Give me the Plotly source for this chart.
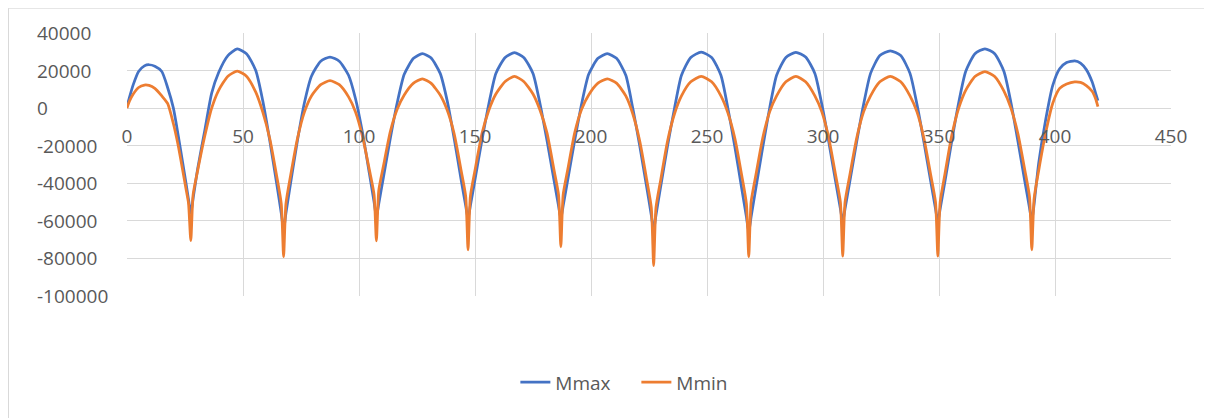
import plotly.graph_objects as go

# ---- data (position along beam, bending moments) ----
x_pos = [
    0, 1, 2.7, 5, 7.5, 9.5, 12, 15, 17.5, 20, 22, 24, 25.5, 26.5,
    27.5, 28.5, 30.5, 33.5, 36.5, 39.5, 43.5, 47.5, 51.5, 55.5, 58.5, 61.5, 64.5, 66.5,
    67.5, 68.5, 70.5, 73.5, 76.5, 79.5, 83.5, 87.5, 91.5, 95.5, 98.5, 101.5, 104.5, 106.5,
    107.5, 108.5, 110.5, 113.5, 116.5, 119.5, 123.5, 127.3, 131, 135, 138, 141, 144, 146,
    147, 148, 150, 153, 156, 159, 163, 167, 171, 175, 178, 181, 184, 186,
    187, 188, 190, 193, 196, 199, 203, 207, 211, 215, 218, 221, 224, 226,
    227, 228, 230, 233, 236, 239, 243, 247.5, 252, 256, 259, 262, 265, 267,
    268, 269, 271, 274, 277, 280, 284, 288.3, 292.5, 296.5, 299.5, 302.5, 305.5, 307.5,
    308.5, 309.5, 311.5, 314.5, 317.5, 320.5, 324.5, 329, 333.5, 337.5, 340.5, 343.5, 346.5, 348.5,
    349.5, 350.5, 352.5, 355.5, 358.5, 361.5, 365.5, 369.8, 374, 378, 381, 384, 387, 389,
    390, 391, 393, 396, 399, 402, 405, 408.5, 411, 413.5, 416, 417.5, 418.5,
]

m_max = [
    1000, 5500, 12500, 19500, 22500, 23100, 22300, 19500, 11000, 0, -14000, -29000, -40500, -48500,
    -56000, -48000, -32000, -12000, 8000, 19000, 28000, 31500, 29000, 20000, 4000, -17000, -40000, -56000,
    -65000, -56000, -40000, -17000, 3000, 17000, 25000, 27200, 25000, 17500, 5000, -13000, -35000, -50000,
    -58000, -51000, -37000, -16000, 3000, 18000, 26500, 29000, 26800, 18500, 4000, -16000, -38000, -52000,
    -59000, -52000, -38000, -17000, 2500, 18500, 27000, 29500, 27000, 18500, 2500, -17000, -38000, -52000,
    -59000, -52000, -38000, -17000, 2500, 18000, 26500, 29000, 26500, 17500, 0, -20000, -42000, -57000,
    -65000, -57000, -42000, -20000, 0, 17500, 27000, 29800, 27000, 17500, 0, -20500, -43000, -58000,
    -66000, -58000, -43000, -21000, 0, 17500, 27000, 29700, 27200, 18500, 2000, -18000, -39500, -53500,
    -60500, -53500, -39500, -18000, 2000, 18500, 28000, 30500, 28000, 18500, 2000, -18000, -39500, -53500,
    -60500, -53500, -39500, -17500, 3000, 19500, 29000, 31600, 29000, 19500, 3000, -17500, -39000, -53000,
    -60000, -51000, -29000, -6000, 12000, 21000, 24300, 25200, 24000, 20500, 14000, 8000, 4000,
]

m_min = [
    0, 3500, 7500, 11000, 12300, 12100, 10500, 6500, 2500, -8300, -19500, -33000, -43500, -50500,
    -70500, -46000, -33000, -15000, 0, 9500, 17000, 19700, 17000, 8500, -2000, -16000, -36000, -51000,
    -79100, -51000, -36000, -16000, -2000, 6500, 12500, 14600, 12500, 6000, -2000, -15000, -33000, -46000,
    -70600, -44000, -31000, -12500, -500, 7000, 13300, 15600, 13300, 7000, -1000, -13500, -33000, -47000,
    -75400, -47000, -33000, -13500, -1000, 7500, 14200, 16900, 14200, 7500, -1000, -13000, -32500, -46000,
    -73800, -46000, -32500, -13000, -500, 7000, 13300, 15600, 13300, 6500, -3000, -17500, -38000, -53000,
    -83800, -53000, -38500, -17500, -3000, 6500, 14000, 16900, 14000, 6500, -2500, -16000, -36000, -51000,
    -79100, -50000, -36000, -16000, -2000, 6500, 14000, 16900, 14000, 6500, -2000, -16000, -36000, -50000,
    -78800, -50000, -36000, -16000, -2000, 6500, 14000, 16900, 14000, 6500, -2000, -16000, -36000, -50000,
    -78800, -50000, -35500, -14500, 0, 9500, 16800, 19500, 16800, 9000, 0, -13500, -33000, -47000,
    -75400, -48000, -33000, -13000, 2500, 10500, 12800, 14000, 13700, 12000, 9000, 5000, 800,
]

x_ticks = [0, 50, 100, 150, 200, 250, 300, 350, 400, 450]
y_ticks = [40000, 20000, 0, -20000, -40000, -60000, -80000, -100000]
y_labels = ["40000", "20000", "0", "-20000", "-40000", "-60000", "-80000", "-100000"]
series_names = ["Mmax", "Mmin"]

# ---- styling ----
BLUE = "#4472C4"
ORANGE = "#ED7D31"
GRID = "#D9D9D9"
TXT = "#595959"
FONT = "Open Sans"
FS = 19

fig = go.Figure()
fig.add_trace(go.Scatter(x=x_pos, y=m_max, mode="lines", name=series_names[0],
                         line=dict(color=BLUE, width=2.75, shape="spline", smoothing=0.6)))
fig.add_trace(go.Scatter(x=x_pos, y=m_min, mode="lines", name=series_names[1],
                         line=dict(color=ORANGE, width=2.75, shape="spline", smoothing=0.6)))

y_min, y_max = -100000, 40000
zero_frac = (0 - y_min) / (y_max - y_min)

# the page body has an 8px margin, so the figure is 8px smaller than the window
fig.update_layout(
    width=1204, height=410,
    margin=dict(l=119, r=41, t=25, b=122),
    paper_bgcolor="white", plot_bgcolor="white",
    font=dict(family=FONT, size=FS, color=TXT),
    showlegend=True,
    legend=dict(orientation="h", x=0.372, xanchor="left", y=-0.328, yanchor="middle",
                font=dict(family=FONT, size=FS, color=TXT), itemwidth=30,
                entrywidth=76, entrywidthmode="pixels", tracegroupgap=0),
    xaxis=dict(range=[0, 450], tickvals=x_ticks, showgrid=True, gridcolor=GRID, gridwidth=1,
               zeroline=False, showline=False, ticks="", anchor="free", position=zero_frac,
               automargin=False,
               ticklabelstandoff=15, tickfont=dict(family=FONT, size=FS, color=TXT)),
    yaxis=dict(range=[y_min, y_max], tickvals=y_ticks, showgrid=True, gridcolor=GRID, gridwidth=1,
               zeroline=False, showline=False, showticklabels=False, ticks="", automargin=False),
)

for v, lbl in zip(y_ticks, y_labels):
    fig.add_annotation(x=-0.088, xref="paper", y=v, yref="y", text=lbl, showarrow=False,
                       xanchor="left", yanchor="middle",
                       font=dict(family=FONT, size=FS, color=TXT))

# chart-area border
fig.add_shape(type="rect", xref="paper", yref="paper", x0=-0.1135, x1=1.0335, y0=-0.5, y1=1.0945,
              line=dict(color=GRID, width=1), fillcolor="rgba(0,0,0,0)", layer="below")

fig.write_html("out.html")
